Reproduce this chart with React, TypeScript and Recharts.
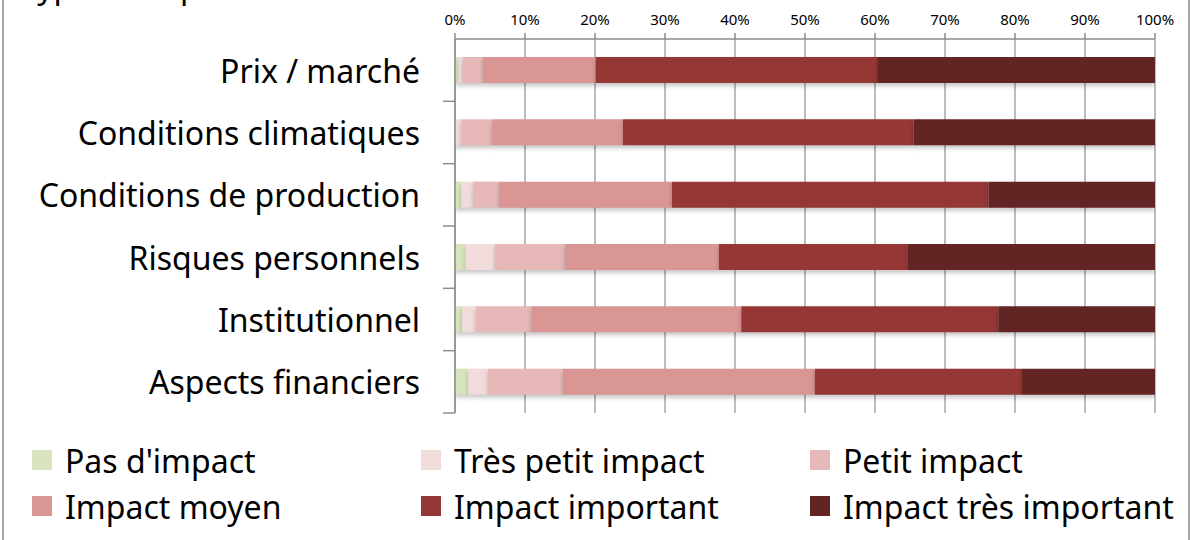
import React from 'react'
import { BarChart, Bar, XAxis, YAxis, CartesianGrid } from 'recharts'

// Risk categories (top to bottom) and share of answers per impact level, in %
const categories = [
  'Prix / marché',
  'Conditions climatiques',
  'Conditions de production',
  'Risques personnels',
  'Institutionnel',
  'Aspects financiers',
]
const pasImpact = [0.5, 0, 0.9, 1.5, 1.0, 1.9]
const tresPetit = [0.6, 0.9, 1.7, 4.2, 2.0, 2.8]
const petit = [2.9, 4.4, 3.7, 10.0, 7.9, 10.7]
const moyen = [16.1, 18.7, 24.7, 22.0, 30.0, 36.0]
const important = [40.2, 41.5, 45.2, 27.0, 36.7, 29.6]
const tresImportant = [39.7, 34.5, 23.8, 35.3, 22.4, 19.0]

const xTicks = [0, 10, 20, 30, 40, 50, 60, 70, 80, 90, 100]

const series = [
  { key: 'pas', name: "Pas d'impact", color: '#d7e4bd', values: pasImpact },
  { key: 'tresPetit', name: 'Très petit impact', color: '#f2dcdb', values: tresPetit },
  { key: 'petit', name: 'Petit impact', color: '#e6b9b8', values: petit },
  { key: 'moyen', name: 'Impact moyen', color: '#d99694', values: moyen },
  { key: 'important', name: 'Impact important', color: '#953735', values: important },
  { key: 'tresImportant', name: 'Impact très important', color: '#632523', values: tresImportant },
]

const data = categories.map((name, i) => {
  const row: Record<string, string | number> = { name }
  series.forEach(s => { row[s.key] = s.values[i] })
  return row
})

const WIDTH = 1194
const HEIGHT = 540
const TOP = 39
const BOTTOM = 127
const X_AXIS_H = 30
const BAND = (HEIGHT - TOP - BOTTOM) / categories.length
const FONT = '"Noto Sans", "Open Sans", sans-serif'
const AXIS_GREY = '#8c8c8c'

const CategoryTick = (props: any) => {
  const { x, y, payload } = props
  return (
    <g>
      <text x={x - 35} y={y} textAnchor="end" dominantBaseline="central" fontSize={32} fill="#000" fontFamily={FONT}>
        {payload.value}
      </text>
      <line x1={x - 12} x2={x} y1={y + BAND / 2} y2={y + BAND / 2} stroke={AXIS_GREY} strokeWidth={1.5} />
    </g>
  )
}

export default function App() {
  return (
    <div style={{ position: 'absolute', left: 0, top: 0, width: WIDTH, height: HEIGHT, overflow: 'hidden', background: '#fff' }}>
      <style>{`.recharts-bar-rectangles { filter: drop-shadow(0px 3px 2px rgba(0,0,0,0.22)); }`}</style>
      <div style={{ position: 'absolute', left: 2, top: -10, width: 1184, height: 570, border: '2px solid #a6a6a6' }} />
      <div style={{ position: 'absolute', left: 20, top: -30, fontFamily: FONT, fontSize: 32, lineHeight: '32px', color: '#000', whiteSpace: 'nowrap' }}>
        Types d'impacts
      </div>
      <BarChart
        width={WIDTH}
        height={HEIGHT}
        data={data}
        layout="vertical"
        margin={{ top: TOP - X_AXIS_H, right: 39, bottom: BOTTOM, left: 0 }}
        barCategoryGap="58%"
        style={{ position: 'absolute', left: 0, top: 0 }}
      >
        <CartesianGrid horizontal={false} vertical stroke="#a6a6a6" strokeWidth={1.5} />
        <XAxis
          type="number"
          orientation="top"
          height={X_AXIS_H}
          domain={[0, 100]}
          ticks={xTicks}
          tickFormatter={(v: number) => `${v}%`}
          stroke={AXIS_GREY}
          strokeWidth={1.5}
          tickSize={6}
          tickMargin={8}
          tick={{ fontSize: 15, fill: '#000', fontFamily: FONT }}
          interval={0}
          allowDataOverflow
        />
        <YAxis
          type="category"
          dataKey="name"
          width={455}
          stroke={AXIS_GREY}
          strokeWidth={1.5}
          tickLine={false}
          tickSize={0}
          tickMargin={0}
          tick={<CategoryTick />}
          interval={0}
        />
        {series.map(s => (
          <Bar key={s.key} dataKey={s.key} name={s.name} stackId="a" fill={s.color} barSize={26} isAnimationActive={false} />
        ))}
      </BarChart>
      <div
        style={{
          position: 'absolute', left: 32, top: 440, display: 'grid',
          gridTemplateColumns: '389px 389px 389px', rowGap: 6, fontFamily: FONT,
        }}
      >
        {series.map(s => (
          <div key={s.key} style={{ display: 'flex', alignItems: 'center', height: 40 }}>
            <span style={{ width: 20, height: 20, background: s.color, display: 'inline-block', marginRight: 13 }} />
            <span style={{ fontSize: 32, color: '#000', whiteSpace: 'nowrap' }}>{s.name}</span>
          </div>
        ))}
      </div>
    </div>
  )
}
